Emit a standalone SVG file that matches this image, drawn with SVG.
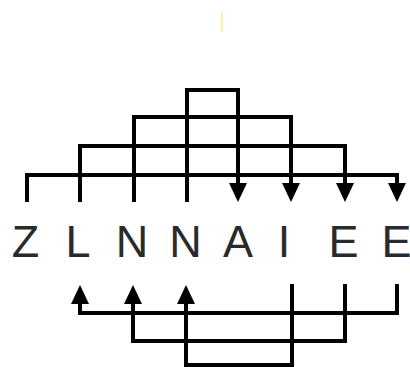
<svg xmlns="http://www.w3.org/2000/svg" width="410" height="367" viewBox="0 0 410 367">
  <defs>
    <marker id="arr" viewBox="0 0 19 18" refX="0" refY="9" markerWidth="19" markerHeight="18" markerUnits="userSpaceOnUse" orient="auto">
      <path d="M0,0 L19,9 L0,18 Z" fill="#000"/>
    </marker>
    <style>
      .c { fill: none; stroke: #000; stroke-width: 4; stroke-linejoin: miter; stroke-linecap: butt; }
      .a { marker-end: url(#arr); }
      .t { font-family: "Liberation Sans", Arial, sans-serif; font-size: 45px; fill: #2a2a2a; text-anchor: middle; }
    </style>
  </defs>
  <rect width="410" height="367" fill="#fff"/>
  <line x1="222" y1="12" x2="222" y2="32" stroke="#f2f08a" stroke-width="1.5"/>
  <g id="connectors">
    <path class="c" d="M27,202 V175 H397 V181"/>
    <path class="c a" d="M397,175 V183"/>
    <path class="c" d="M80,202 V146 H345 V181"/>
    <path class="c a" d="M345,146 V183"/>
    <path class="c" d="M134,202 V117 H291 V181"/>
    <path class="c a" d="M291,117 V183"/>
    <path class="c" d="M187,202 V90 H238 V181"/>
    <path class="c a" d="M238,90 V183"/>
    <path class="c" d="M397,284 V313 H80 V305"/>
    <path class="c a" d="M80,313 V304"/>
    <path class="c" d="M345,284 V341 H133 V305"/>
    <path class="c a" d="M133,341 V304"/>
    <path class="c" d="M292,284 V365 H186 V305"/>
    <path class="c a" d="M186,365 V304"/>
  </g>
  <g id="n1"><text class="t" x="25.5" y="257">Z</text></g>
  <g id="n2"><text class="t" x="78" y="257">L</text></g>
  <g id="n3"><text class="t" x="132" y="257">N</text></g>
  <g id="n4"><text class="t" x="185.5" y="257">N</text></g>
  <g id="n5"><text class="t" x="238" y="257">A</text></g>
  <g id="n6"><text class="t" x="284" y="257">I</text></g>
  <g id="n7"><text class="t" x="343.5" y="257">E</text></g>
  <g id="n8"><text class="t" x="396.5" y="257">E</text></g>
</svg>
